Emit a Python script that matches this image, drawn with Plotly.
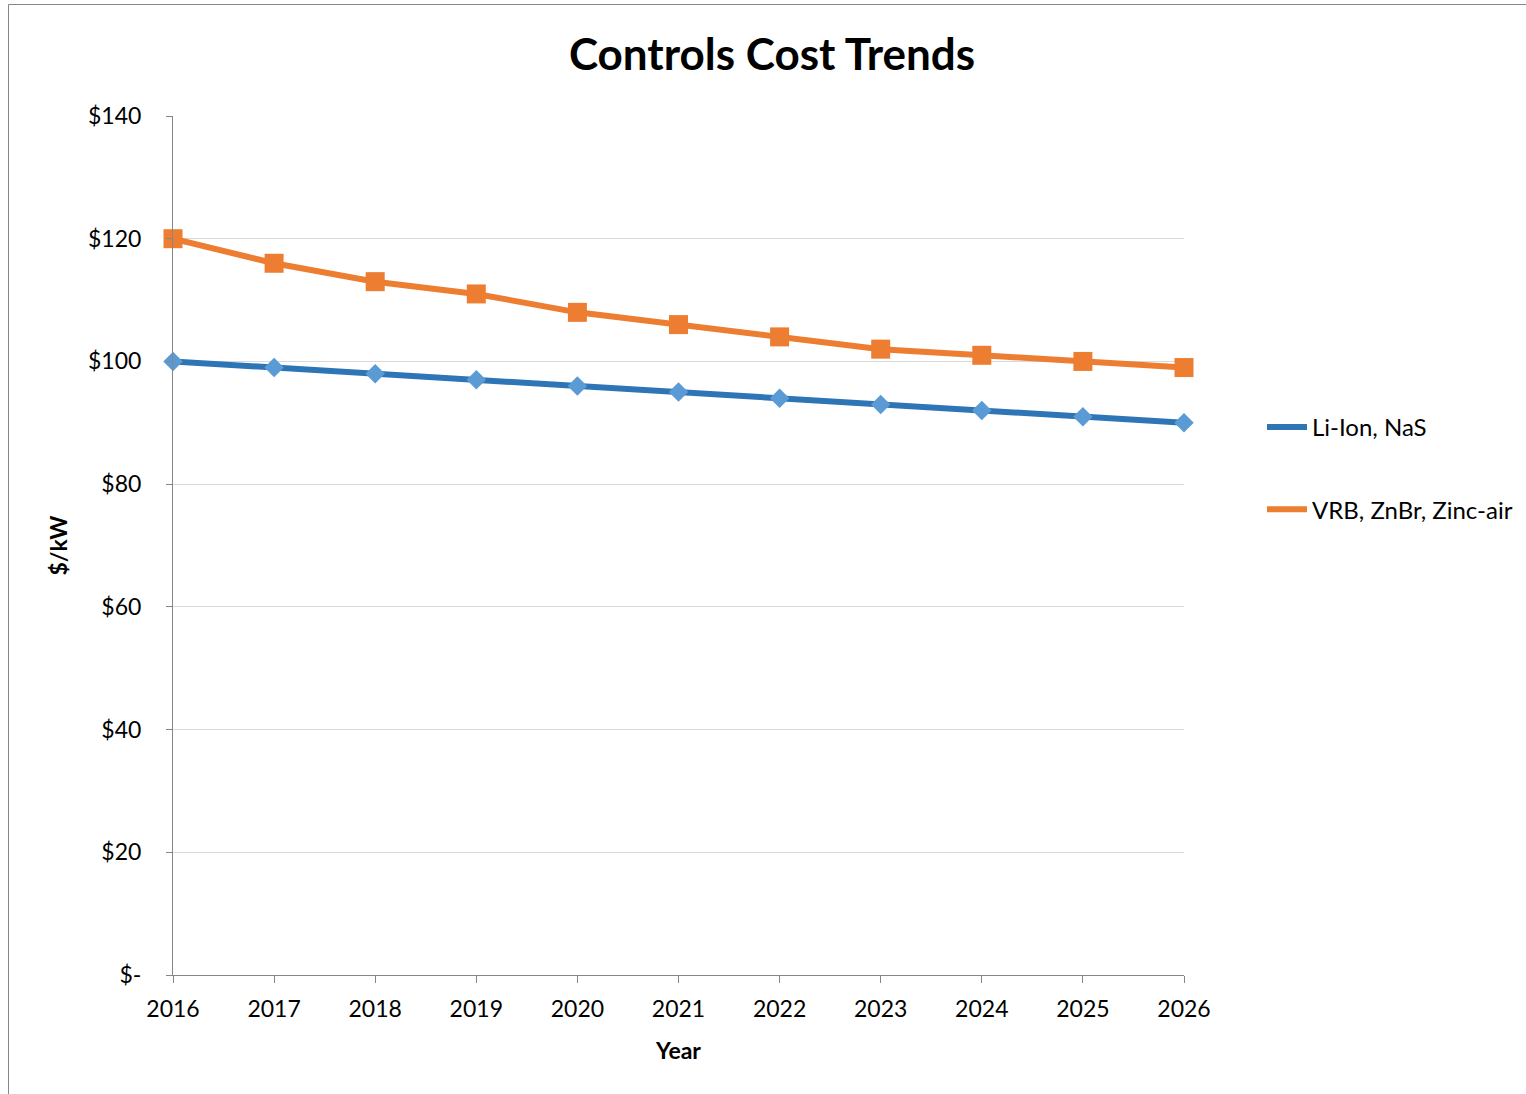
import plotly.graph_objects as go

years = [2016, 2017, 2018, 2019, 2020, 2021, 2022, 2023, 2024, 2025, 2026]
li_ion_nas = [100, 99, 98, 97, 96, 95, 94, 93, 92, 91, 90]
vrb_znbr_zinc = [120, 116, 113, 111, 108, 106, 104, 102, 101, 100, 99]
series_names = ["Li-Ion, NaS", "VRB, ZnBr, Zinc-air"]
y_tick_vals = [0, 20, 40, 60, 80, 100, 120, 140]
y_tick_text = ["$-", "$20", "$40", "$60", "$80", "$100", "$120", "$140"]

W, H = 1526, 1094
L, R, T, B = 173, 1184, 116, 975
FONT = "Lato, Calibri, Carlito, sans-serif"

fig = go.Figure()
fig.add_trace(go.Scatter(
    x=years, y=li_ion_nas, mode="lines+markers", name=series_names[0],
    line=dict(color="#2E75B6", width=6),
    marker=dict(symbol="diamond", size=15, color="#5B9BD5"),
    showlegend=False, cliponaxis=False,
))
fig.add_trace(go.Scatter(
    x=years, y=vrb_znbr_zinc, mode="lines+markers", name=series_names[1],
    line=dict(color="#ED7D31", width=6),
    marker=dict(symbol="square", size=19, color="#ED7D31"),
    showlegend=False, cliponaxis=False,
))
# legend entries (line only)
fig.add_trace(go.Scatter(x=[None], y=[None], mode="lines", name=series_names[0],
                         line=dict(color="#2E75B6", width=6), legendgroup="a"))
fig.add_trace(go.Scatter(x=[None], y=[None], mode="lines", name=series_names[1],
                         line=dict(color="#ED7D31", width=6), legendgroup="b"))

def px(x):
    return (x - L) / (R - L)

def py(y):
    return (B - y) / (B - T)

# chart border (left and top edges visible)
fig.add_shape(type="line", xref="paper", yref="paper",
              x0=px(8.5), x1=px(8.5), y0=py(4.5), y1=py(1100),
              line=dict(color="#868686", width=1))
fig.add_shape(type="line", xref="paper", yref="paper",
              x0=px(8.5), x1=px(1530), y0=py(4.5), y1=py(4.5),
              line=dict(color="#868686", width=1))

fig.update_layout(
    width=W, height=H,
    margin=dict(l=L, r=W - R, t=T, b=H - B, autoexpand=False),
    paper_bgcolor="white", plot_bgcolor="white",
    font=dict(family=FONT, color="#000000", size=23),
    title=dict(text="<b>Controls Cost Trends</b>", x=772 / W, xanchor="center",
               y=1 - 55 / H, yanchor="middle", font=dict(size=44, family=FONT)),
    legend=dict(x=px(1262), y=py(468.5), xanchor="left", yanchor="middle",
                font=dict(size=24, family=FONT), tracegroupgap=48,
                itemwidth=40, bgcolor="rgba(0,0,0,0)"),
    showlegend=True,
)
fig.update_xaxes(
    range=[2016, 2026], tickvals=years, ticktext=[str(y) for y in years],
    showgrid=False, showline=True, linecolor="#868686", linewidth=1,
    ticks="outside", ticklen=7, tickcolor="#868686",
    tickfont=dict(size=23), zeroline=False, ticklabelstandoff=6,
    title=dict(text="<b>Year</b>", font=dict(size=23), standoff=22),
)
fig.update_yaxes(
    range=[0, 140], tickvals=y_tick_vals, ticktext=y_tick_text,
    showgrid=True, gridcolor="#d9d9d9", gridwidth=1,
    showline=True, linecolor="#868686", linewidth=1,
    ticks="outside", ticklen=6, tickcolor="#868686",
    tickfont=dict(size=23), zeroline=False, ticklabelstandoff=20,
    title=dict(text="<b>$/kW</b>", font=dict(size=23), standoff=13),
)

fig.write_html("out.html")
